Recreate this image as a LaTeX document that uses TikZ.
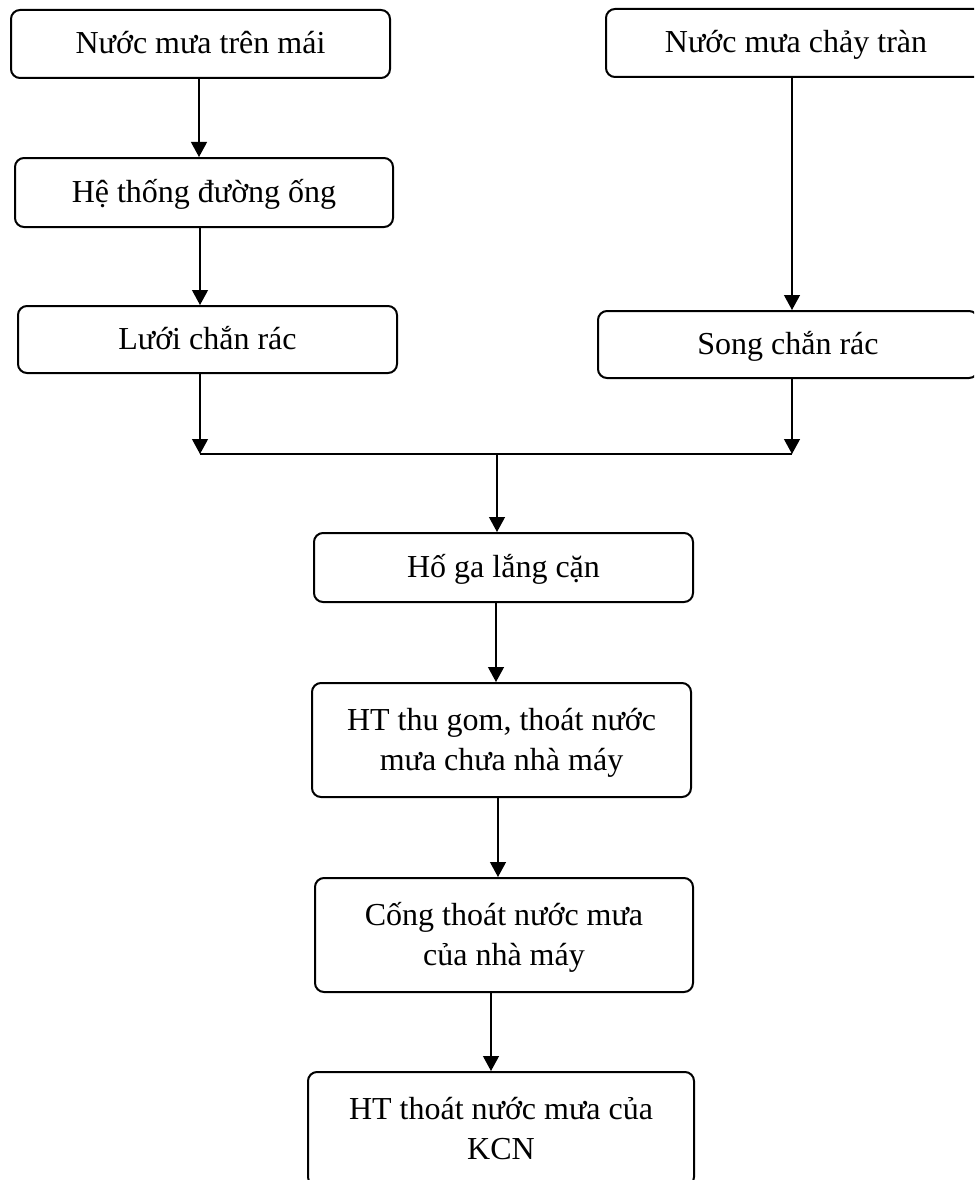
\documentclass[tikz,border=0pt]{standalone}
\usepackage{fontspec}
\setmainfont{Liberation Serif}
\usetikzlibrary{arrows.meta}
\tikzset{
  flowbox/.style={draw, line width=2pt, rounded corners=9pt, inner sep=0pt,
    align=center, font=\fontsize{32}{40}\selectfont, fill=white},
  oneline/.style={flowbox, text height=25pt, text depth=6pt},
  twoline/.style={flowbox, text height=66pt, text depth=6pt},
  flow/.style={line width=1.2pt, -{Triangle[width=16pt,length=15pt]}},
  plain/.style={line width=1.2pt}
}
\begin{document}
\begin{tikzpicture}[x=1pt,y=-1pt]
  \useasboundingbox (0,0) rectangle (974,1180);
  \clip (0,0) rectangle (974,1180);

  % left branch
  \node[oneline, minimum width=379pt, minimum height=68pt] (b1) at (200.5,44) {Nước mưa trên mái};
  \node[oneline, minimum width=378pt, minimum height=69pt] (b2) at (204,192.5) {Hệ thống đường ống};
  \node[oneline, minimum width=379pt, minimum height=67pt] (b3) at (207.5,339.5) {Lưới chắn rác};

  % right branch
  \node[oneline, minimum width=380pt, minimum height=68pt] (b4) at (796,43) {Nước mưa chảy tràn};
  \node[oneline, minimum width=380pt, minimum height=67pt] (b5) at (788,344.5) {Song chắn rác};

  % main chain
  \node[oneline, minimum width=379pt, minimum height=69pt] (b6) at (503.5,567.5) {Hố ga lắng cặn};
  \node[twoline, minimum width=379pt, minimum height=114pt] (b7) at (501.5,740) {HT thu gom, thoát nước\\mưa chưa nhà máy};
  \node[twoline, minimum width=378pt, minimum height=114pt] (b8) at (504,935) {Cống thoát nước mưa\\của nhà máy};
  \node[twoline, minimum width=386pt, minimum height=114pt] (b9) at (501,1129) {HT thoát nước mưa của\\KCN};

  % junction points
  \coordinate (jl) at (200,454);
  \coordinate (jr) at (792,454);
  \coordinate (jm) at (497,455);

  % connectors
  \draw[flow] ([xshift=-1.5pt]b1.south) -- ([xshift=-1.5pt]b1.south |- b2.north);
  \draw[flow] ([xshift=-4pt]b2.south) -- ([xshift=-4pt]b2.south |- b3.north);
  \draw[flow] ([xshift=-7.5pt]b3.south) -- (jl);
  \draw[flow] ([xshift=-4pt]b4.south) -- ([xshift=-4pt]b4.south |- b5.north);
  \draw[flow] ([xshift=4pt]b5.south) -- (jr);
  \draw[plain] (jl) -- (jr);
  \draw[flow] (jm) -- (jm |- b6.north);
  \draw[flow] ([xshift=-7.5pt]b6.south) -- ([xshift=-7.5pt]b6.south |- b7.north);
  \draw[flow] ([xshift=-3.5pt]b7.south) -- ([xshift=-3.5pt]b7.south |- b8.north);
  \draw[flow] ([xshift=-13pt]b8.south) -- ([xshift=-13pt]b8.south |- b9.north);
\end{tikzpicture}
\end{document}
